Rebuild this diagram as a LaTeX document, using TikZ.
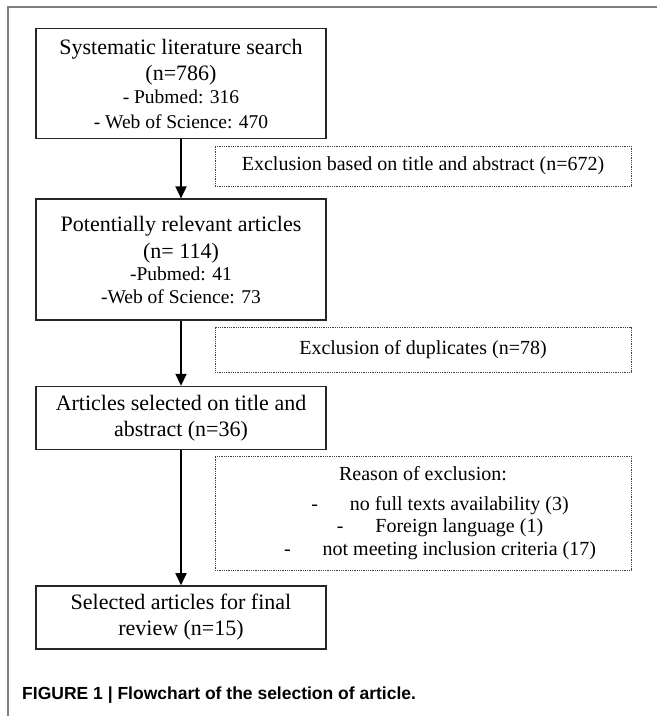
\documentclass[tikz,border=0pt]{standalone}
\usepackage{fontspec}
\setmainfont{Liberation Serif}
\newfontfamily\capfont{Liberation Sans}
\usepackage{tikz}
\usetikzlibrary{positioning,arrows.meta}

\newcommand{\subline}[1]{{\fontsize{19.5}{24}\selectfont #1}}
\newcommand{\reasonline}[1]{\hspace*{34pt}-\hspace{32pt}#1}

\begin{document}
\begin{tikzpicture}[x=1pt, y=-1pt,
    stagebox/.style={draw=black!85, line width=1.4pt, minimum width=290pt, inner sep=0pt,
      align=center, font=\fontsize{22}{26}\selectfont},
    exclbox/.style={draw=black!75, line width=0.9pt, dash pattern=on 0.9pt off 0.9pt,
      minimum width=416pt, inner sep=0pt, align=center, font=\fontsize{20}{22.5}\selectfont},
    flow/.style={line width=1.8pt, -{Triangle[width=11pt,length=12pt]}}]
        \useasboundingbox (0,0) rectangle (657,716);
        \draw[black!50, line width=1.5pt] (657,7) -- (8,7) -- (8,716);
        \node[stagebox, minimum height=110pt, anchor=north] (search) at (181,28)
          {Systematic literature search\\(n=786)\\[-3pt]\subline{- Pubmed: 316}\\[-1pt]\subline{- Web of Science: 470}};
        \node[stagebox, minimum height=121pt] (relevant) [below=59pt of search]
          {Potentially relevant articles\\[1pt](n= 114)\\[-4pt]\subline{-Pubmed: 41}\\[-3pt]\subline{-Web of Science: 73}};
        \node[stagebox, minimum height=63pt] (selected) [below=65pt of relevant]
          {Articles selected on title and\\abstract (n=36)};
        \node[stagebox, minimum height=63pt] (final) [below=135pt of selected]
          {Selected articles for final\\review (n=15)};
        \node[exclbox, minimum height=40pt] (dropA) at (423,166) {Exclusion based on title and abstract (n=672)};
        \node[exclbox, minimum height=45pt] (dropB) at (423,349.5) {Exclusion of duplicates (n=78)};
        \node[exclbox, minimum height=114pt] (dropC) at (423,513)
          {Reason of exclusion:\\[7.5pt]\reasonline{no full texts availability (3)}\\
           \reasonline{Foreign language (1)}\\\reasonline{not meeting inclusion criteria (17)}};
        \draw[flow] (search) -- (relevant);
        \draw[flow] (relevant) -- (selected);
        \draw[flow] (selected) -- (final);
        \node[anchor=west, inner sep=0pt, font=\capfont\bfseries\fontsize{17.5}{20}\selectfont] (caption) at (22,695)
          {FIGURE 1 | Flowchart of the selection of article.};
  \end{tikzpicture}
\end{document}
